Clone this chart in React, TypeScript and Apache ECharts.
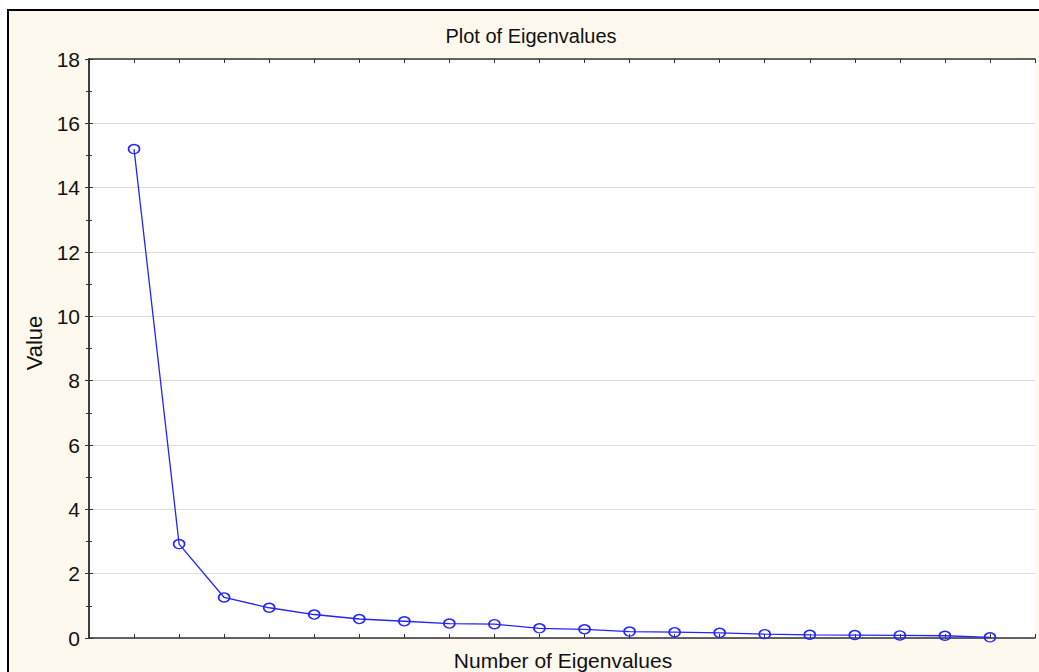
import React, { useEffect, useRef } from "react";
import * as echarts from "echarts";

const eigenIndex = [1, 2, 3, 4, 5, 6, 7, 8, 9, 10, 11, 12, 13, 14, 15, 16, 17, 18, 19, 20];
const eigenValues = [15.2, 2.92, 1.26, 0.94, 0.73, 0.59, 0.52, 0.45, 0.43, 0.3, 0.27, 0.2, 0.18, 0.16, 0.12, 0.1, 0.09, 0.08, 0.07, 0.02];
const titleText = "Plot of Eigenvalues";
const xAxisTitle = "Number of Eigenvalues";
const yAxisTitle = "Value";
const yMin = 0;
const yMax = 18;
const yStep = 2;
const xMin = 0;
const xMax = 21;

export default function App() {
  const ref = useRef<HTMLDivElement>(null);
  useEffect(() => {
    const chart = echarts.init(ref.current!, null, { renderer: "svg" });
    const font = "'Liberation Sans', Arial, sans-serif";
    const axisColor = "#333";
    const blue = "#2424ff";
    const xCommon = {
      type: "value",
      min: xMin,
      max: xMax,
      interval: 1,
      axisLine: { show: true, onZero: false, lineStyle: { color: axisColor, width: 1.5 } },
      axisTick: { show: true, inside: true, length: 4, lineStyle: { color: axisColor, width: 1 } },
      axisLabel: { show: false },
      splitLine: { show: false },
    };
    const yCommon = {
      type: "value",
      min: yMin,
      max: yMax,
      interval: yStep,
      axisLine: { show: true, lineStyle: { color: axisColor, width: 1.5 } },
      axisTick: { show: true, inside: true, length: 4, lineStyle: { color: axisColor, width: 1 } },
      minorTick: { show: true, splitNumber: 2, length: 3, lineStyle: { color: axisColor, width: 1 } },
    };
    const textStyle = (text: string, size: number) => ({
      text,
      fontSize: size,
      fontFamily: font,
      fill: "#111",
      align: "center",
      verticalAlign: "middle",
      textAlign: "center",
      textVerticalAlign: "middle",
    });
    chart.setOption({
      animation: false,
      backgroundColor: "#ffffff",
      grid: { left: 89, top: 59, right: 4, bottom: 34, show: true, backgroundColor: "#ffffff", borderWidth: 0 },
      xAxis: [
        { ...xCommon, position: "bottom" },
        { ...xCommon, position: "top" },
      ],
      yAxis: [
        {
          ...yCommon,
          position: "left",
          axisLabel: { show: true, fontSize: 21, fontFamily: font, color: "#111", margin: 9 },
          splitLine: { show: true, lineStyle: { color: "#dcdcdc", width: 1.2 } },
        },
        {
          ...yCommon,
          position: "right",
          axisLabel: { show: false },
          splitLine: { show: false },
        },
      ],
      graphic: [
        {
          type: "rect",
          z: -10,
          silent: true,
          shape: { x: 8, y: 10, width: 1200, height: 900 },
          style: { fill: "#fdf9ef", stroke: "#000", lineWidth: 2 },
        },
        { type: "text", x: 531, y: 36, style: textStyle(titleText, 20) },
        { type: "text", x: 563, y: 660, style: textStyle(xAxisTitle, 21) },
        { type: "text", x: 34, y: 343, rotation: Math.PI / 2, style: textStyle(yAxisTitle, 22) },
      ],
      series: [
        {
          type: "line",
          xAxisIndex: 0,
          yAxisIndex: 0,
          data: eigenIndex.map((x, i) => [x, eigenValues[i]]),
          symbol: "circle",
          symbolSize: [11, 9],
          itemStyle: { color: "rgba(0,0,0,0)", borderColor: blue, borderWidth: 1.5 },
          lineStyle: { color: blue, width: 1.3 },
        },
      ],
    });
    return () => chart.dispose();
  }, []);
  return <div ref={ref} style={{ position: "fixed", left: 0, top: 0, width: 1039, height: 672 }} />;
}
